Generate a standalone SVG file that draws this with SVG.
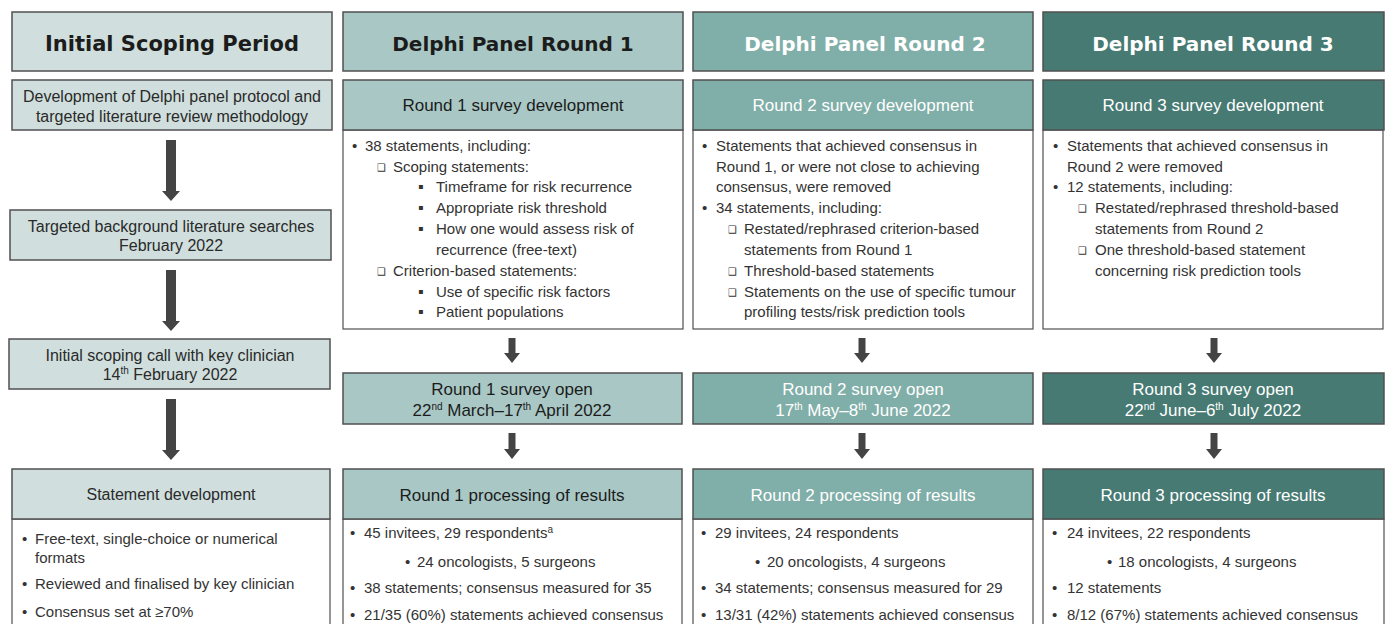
<svg xmlns="http://www.w3.org/2000/svg" width="1389" height="624" viewBox="0 0 1389 624">
<style>
.f0{fill:#d0dfdd;stroke:#505050;stroke-width:1.5}
.f1{fill:#a9c8c5;stroke:#505050;stroke-width:1.5}
.f2{fill:#80aea8;stroke:#505050;stroke-width:1.5}
.f3{fill:#467a73;stroke:#505050;stroke-width:1.5}
.wb{fill:#fff;stroke:#505050;stroke-width:1.2}
.hd{font-family:"DejaVu Sans",Verdana,sans-serif;font-weight:bold;font-size:20px;text-anchor:middle}
.st{font-family:"Liberation Sans",Arial,sans-serif;font-size:17px;text-anchor:middle}
.s0{font-family:"Liberation Sans",Arial,sans-serif;font-size:16px;text-anchor:middle;fill:#2a2a2a}
.b{font-family:"Liberation Sans",Arial,sans-serif;font-size:15px;fill:#333}
.sym{font-family:"DejaVu Sans",sans-serif;font-size:10px;fill:#333}
.sq{font-family:"DejaVu Sans",sans-serif;font-size:8px;fill:#333}
.dk{fill:#1c1c1c}
.wt{fill:#ffffff}
.arr{fill:#444444}
.sup{font-size:10px}
</style>

<g id="connectors">
<path class="arr" d="M166,140 H176 V191 H180 L171,201 L162,191 H166 Z"/>
<path class="arr" d="M166,270 H176 V321 H180 L171,331 L162,321 H166 Z"/>
<path class="arr" d="M166,399 H176 V450 H180 L171,460 L162,450 H166 Z"/>
<path class="arr" d="M508.5,338 H515.5 V353 H520 L512,363 L504,353 H508.5 Z"/>
<path class="arr" d="M508.5,433 H515.5 V449 H520 L512,459 L504,449 H508.5 Z"/>
<path class="arr" d="M858.5,338 H865.5 V353 H870 L862,363 L854,353 H858.5 Z"/>
<path class="arr" d="M858.5,433 H865.5 V449 H870 L862,459 L854,449 H858.5 Z"/>
<path class="arr" d="M1210.5,338 H1217.5 V353 H1222 L1214,363 L1206,353 H1210.5 Z"/>
<path class="arr" d="M1210.5,433 H1217.5 V449 H1222 L1214,459 L1206,449 H1210.5 Z"/>
</g>

<!-- Column 0 -->
<g id="hdr0">
<rect class="f0" x="12" y="12" width="320" height="59"/>
<text class="hd dk" x="172" y="50.5" style="font-size:21px">Initial Scoping Period</text>
</g>
<g id="c0-protocol">
<rect class="f0" x="12" y="80" width="320" height="50"/>
<text class="s0" x="172" y="102">Development of Delphi panel protocol and</text>
<text class="s0" x="172" y="122">targeted literature review methodology</text>
</g>
<g id="c0-searches">
<rect class="f0" x="10" y="210" width="321" height="50"/>
<text class="s0" x="171" y="232">Targeted background literature searches</text>
<text class="s0" x="171" y="251">February 2022</text>
</g>
<g id="c0-call">
<rect class="f0" x="9" y="339" width="321" height="50"/>
<text class="s0" x="170" y="361">Initial scoping call with key clinician</text>
<text class="s0" x="170" y="380">14<tspan class="sup" dy="-6">th</tspan><tspan dy="6"> February 2022</tspan></text>
</g>
<g id="c0-statement">
<rect class="wb" x="12" y="519" width="318" height="130"/>
<rect class="f0" x="12" y="469" width="318" height="50"/>
<text class="s0" x="171" y="500">Statement development</text>
<text class="b" x="22" y="544">•</text>
<text class="b" x="35" y="544">Free-text, single-choice or numerical</text>
<text class="b" x="35" y="563">formats</text>
<text class="b" x="22" y="589">•</text>
<text class="b" x="35" y="589">Reviewed and finalised by key clinician</text>
<text class="b" x="22" y="617">•</text>
<text class="b" x="35" y="617">Consensus set at ≥70%</text>
</g>

<!-- Column 1 -->
<g id="hdr1">
<rect class="f1" x="343" y="12" width="340" height="59"/>
<text class="hd dk" x="513" y="50.5">Delphi Panel Round 1</text>
</g>
<g id="r1-dev">
<rect class="wb" x="343" y="130" width="340" height="199"/>
<rect class="f1" x="343" y="80" width="340" height="50"/>
<text class="st dk" x="513" y="111">Round 1 survey development</text>
<text class="b" x="352" y="151">•</text>
<text class="b" x="365" y="151">38 statements, including:</text>
<text class="sym" x="377" y="171">❑</text>
<text class="b" x="393" y="172">Scoping statements:</text>
<text class="sq" x="418" y="189">▪</text>
<text class="b" x="436" y="192">Timeframe for risk recurrence</text>
<text class="sq" x="418" y="210">▪</text>
<text class="b" x="436" y="213">Appropriate risk threshold</text>
<text class="sq" x="418" y="231">▪</text>
<text class="b" x="436" y="234">How one would assess risk of</text>
<text class="b" x="436" y="255">recurrence (free-text)</text>
<text class="sym" x="377" y="275">❑</text>
<text class="b" x="393" y="276">Criterion-based statements:</text>
<text class="sq" x="418" y="294">▪</text>
<text class="b" x="436" y="297">Use of specific risk factors</text>
<text class="sq" x="418" y="314">▪</text>
<text class="b" x="436" y="317">Patient populations</text>
</g>
<g id="r1-open">
<rect class="f1" x="343" y="373" width="339" height="51"/>
<text class="st dk" x="512" y="395">Round 1 survey open</text>
<text class="st dk" x="512" y="416">22<tspan class="sup" dy="-6">nd</tspan><tspan dy="6"> March–17</tspan><tspan class="sup" dy="-6">th</tspan><tspan dy="6"> April 2022</tspan></text>
</g>
<g id="r1-results">
<rect class="wb" x="343" y="519" width="339" height="130"/>
<rect class="f1" x="343" y="469" width="339" height="50"/>
<text class="st dk" x="512" y="501">Round 1 processing of results</text>
<text class="b" x="350" y="538">•</text>
<text class="b" x="364" y="538">45 invitees, 29 respondents<tspan class="sup" dy="-5">a</tspan></text>
<text class="b" x="405" y="567">•</text>
<text class="b" x="417" y="567">24 oncologists, 5 surgeons</text>
<text class="b" x="350" y="593">•</text>
<text class="b" x="364" y="593">38 statements; consensus measured for 35</text>
<text class="b" x="350" y="620">•</text>
<text class="b" x="364" y="620">21/35 (60%) statements achieved consensus</text>
</g>

<!-- Column 2 -->
<g id="hdr2">
<rect class="f2" x="693" y="12" width="340" height="59"/>
<text class="hd wt" x="865" y="50.5">Delphi Panel Round 2</text>
</g>
<g id="r2-dev">
<rect class="wb" x="693" y="130" width="340" height="199"/>
<rect class="f2" x="693" y="80" width="340" height="50"/>
<text class="st wt" x="863" y="111">Round 2 survey development</text>
<text class="b" x="702" y="151">•</text>
<text class="b" x="716" y="151">Statements that achieved consensus in</text>
<text class="b" x="716" y="172">Round 1, or were not close to achieving</text>
<text class="b" x="716" y="192">consensus, were removed</text>
<text class="b" x="702" y="213">•</text>
<text class="b" x="716" y="213">34 statements, including:</text>
<text class="sym" x="728" y="233">❑</text>
<text class="b" x="744" y="234">Restated/rephrased criterion-based</text>
<text class="b" x="744" y="255">statements from Round 1</text>
<text class="sym" x="728" y="275">❑</text>
<text class="b" x="744" y="276">Threshold-based statements</text>
<text class="sym" x="728" y="296">❑</text>
<text class="b" x="744" y="297">Statements on the use of specific tumour</text>
<text class="b" x="744" y="317">profiling tests/risk prediction tools</text>
</g>
<g id="r2-open">
<rect class="f2" x="693" y="373" width="340" height="51"/>
<text class="st wt" x="863" y="395">Round 2 survey open</text>
<text class="st wt" x="863" y="416">17<tspan class="sup" dy="-6">th</tspan><tspan dy="6"> May–8</tspan><tspan class="sup" dy="-6">th</tspan><tspan dy="6"> June 2022</tspan></text>
</g>
<g id="r2-results">
<rect class="wb" x="693" y="519" width="340" height="130"/>
<rect class="f2" x="693" y="469" width="340" height="50"/>
<text class="st wt" x="863" y="501">Round 2 processing of results</text>
<text class="b" x="701" y="538">•</text>
<text class="b" x="715" y="538">29 invitees, 24 respondents</text>
<text class="b" x="755" y="567">•</text>
<text class="b" x="767" y="567">20 oncologists, 4 surgeons</text>
<text class="b" x="701" y="593">•</text>
<text class="b" x="715" y="593">34 statements; consensus measured for 29</text>
<text class="b" x="701" y="620">•</text>
<text class="b" x="715" y="620">13/31 (42%) statements achieved consensus</text>
</g>

<!-- Column 3 -->
<g id="hdr3">
<rect class="f3" x="1043" y="12" width="341" height="59"/>
<text class="hd wt" x="1213" y="50.5">Delphi Panel Round 3</text>
</g>
<g id="r3-dev">
<rect class="wb" x="1043" y="130" width="340" height="199"/>
<rect class="f3" x="1043" y="80" width="341" height="50"/>
<text class="st wt" x="1213" y="111">Round 3 survey development</text>
<text class="b" x="1053" y="151">•</text>
<text class="b" x="1067" y="151">Statements that achieved consensus in</text>
<text class="b" x="1067" y="172">Round 2 were removed</text>
<text class="b" x="1053" y="192">•</text>
<text class="b" x="1067" y="192">12 statements, including:</text>
<text class="sym" x="1078" y="212">❑</text>
<text class="b" x="1095" y="213">Restated/rephrased threshold-based</text>
<text class="b" x="1095" y="234">statements from Round 2</text>
<text class="sym" x="1078" y="254">❑</text>
<text class="b" x="1095" y="255">One threshold-based statement</text>
<text class="b" x="1095" y="276">concerning risk prediction tools</text>
</g>
<g id="r3-open">
<rect class="f3" x="1043" y="373" width="341" height="51"/>
<text class="st wt" x="1213" y="395">Round 3 survey open</text>
<text class="st wt" x="1213" y="416">22<tspan class="sup" dy="-6">nd</tspan><tspan dy="6"> June–6</tspan><tspan class="sup" dy="-6">th</tspan><tspan dy="6"> July 2022</tspan></text>
</g>
<g id="r3-results">
<rect class="wb" x="1043" y="519" width="341" height="130"/>
<rect class="f3" x="1043" y="469" width="341" height="50"/>
<text class="st wt" x="1213" y="501">Round 3 processing of results</text>
<text class="b" x="1052" y="538">•</text>
<text class="b" x="1067" y="538">24 invitees, 22 respondents</text>
<text class="b" x="1107" y="567">•</text>
<text class="b" x="1118" y="567">18 oncologists, 4 surgeons</text>
<text class="b" x="1052" y="593">•</text>
<text class="b" x="1067" y="593">12 statements</text>
<text class="b" x="1052" y="620">•</text>
<text class="b" x="1067" y="620">8/12 (67%) statements achieved consensus</text>
</g>
</svg>
